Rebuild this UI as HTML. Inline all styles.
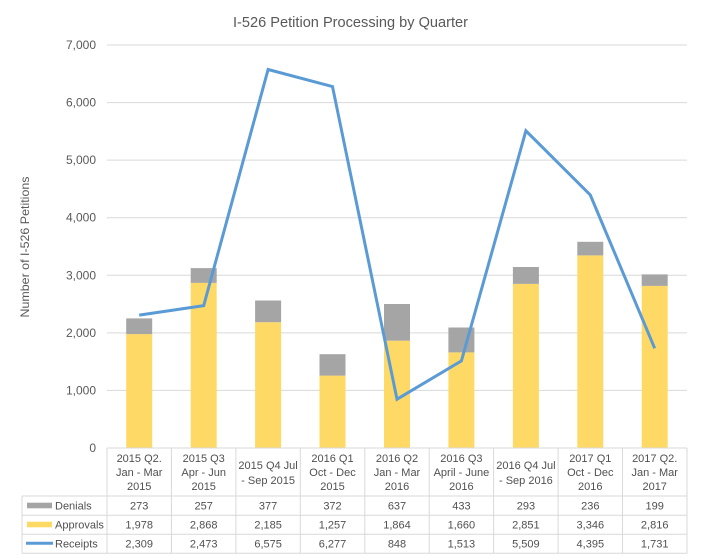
<!DOCTYPE html>
<html>
<head>
<meta charset="utf-8">
<style>
html,body{margin:0;padding:0;background:#fff;}
svg{display:block;font-family:"Liberation Sans",sans-serif;}
</style>
</head>
<body>
<svg width="702" height="560" viewBox="0 0 702 560" xmlns="http://www.w3.org/2000/svg">
<rect width="702" height="560" fill="#fff"/>
<!-- title -->
<text x="350.5" y="27" font-size="14.5" fill="#595959" text-anchor="middle" textLength="235" lengthAdjust="spacingAndGlyphs">I-526 Petition Processing by Quarter</text>
<!-- gridlines -->
<g stroke="#D9D9D9" stroke-width="1">
<line x1="107" y1="45" x2="687" y2="45"/>
<line x1="107" y1="102.6" x2="687" y2="102.6"/>
<line x1="107" y1="160.1" x2="687" y2="160.1"/>
<line x1="107" y1="217.7" x2="687" y2="217.7"/>
<line x1="107" y1="275.3" x2="687" y2="275.3"/>
<line x1="107" y1="332.9" x2="687" y2="332.9"/>
<line x1="107" y1="390.4" x2="687" y2="390.4"/>
</g>
<!-- y labels -->
<g font-size="12" fill="#595959" text-anchor="end">
<text x="96" y="49">7,000</text>
<text x="96" y="106.6">6,000</text>
<text x="96" y="164.1">5,000</text>
<text x="96" y="221.7">4,000</text>
<text x="96" y="279.3">3,000</text>
<text x="96" y="336.9">2,000</text>
<text x="96" y="394.4">1,000</text>
<text x="96" y="452">0</text>
</g>
<text transform="translate(29,247) rotate(-90)" font-size="12" fill="#595959" text-anchor="middle" textLength="141" lengthAdjust="spacingAndGlyphs">Number  of I-526 Petitions</text>
<!-- bars -->
<g>
<rect x="126.2" y="334.1" width="26" height="113.9" fill="#FFD966"/>
<rect x="126.2" y="318.4" width="26" height="15.7" fill="#A5A5A5"/>
<rect x="190.7" y="282.9" width="26" height="165.1" fill="#FFD966"/>
<rect x="190.7" y="268.1" width="26" height="14.8" fill="#A5A5A5"/>
<rect x="255.1" y="322.2" width="26" height="125.8" fill="#FFD966"/>
<rect x="255.1" y="300.5" width="26" height="21.7" fill="#A5A5A5"/>
<rect x="319.5" y="375.6" width="26" height="72.4" fill="#FFD966"/>
<rect x="319.5" y="354.2" width="26" height="21.4" fill="#A5A5A5"/>
<rect x="384" y="340.7" width="26" height="107.3" fill="#FFD966"/>
<rect x="384" y="304.0" width="26" height="36.7" fill="#A5A5A5"/>
<rect x="448.4" y="352.4" width="26" height="95.6" fill="#FFD966"/>
<rect x="448.4" y="327.5" width="26" height="24.9" fill="#A5A5A5"/>
<rect x="512.9" y="283.9" width="26" height="164.1" fill="#FFD966"/>
<rect x="512.9" y="267.0" width="26" height="16.9" fill="#A5A5A5"/>
<rect x="577.3" y="255.4" width="26" height="192.6" fill="#FFD966"/>
<rect x="577.3" y="241.8" width="26" height="13.6" fill="#A5A5A5"/>
<rect x="641.7" y="285.9" width="26" height="162.1" fill="#FFD966"/>
<rect x="641.7" y="274.4" width="26" height="11.5" fill="#A5A5A5"/>
</g>
<!-- line -->
<polyline points="139.2,315.1 203.7,305.6 268.1,69.5 332.5,86.6 397,399.2 461.4,360.9 525.9,130.8 590.3,195 654.7,348.3" fill="none" stroke="#5B9BD5" stroke-width="3" stroke-linejoin="miter"/>
<!-- table grid -->
<g stroke="#D9D9D9" stroke-width="1" fill="none">
<line x1="107" y1="448" x2="687" y2="448"/>
<line x1="22" y1="496" x2="687" y2="496"/>
<line x1="22" y1="515.2" x2="687" y2="515.2"/>
<line x1="22" y1="534.3" x2="687" y2="534.3"/>
<line x1="22" y1="553.3" x2="687" y2="553.3"/>
<line x1="22" y1="496" x2="22" y2="553.3"/>
<line x1="107" y1="448" x2="107" y2="553.3"/>
<line x1="171.4" y1="448" x2="171.4" y2="553.3"/>
<line x1="235.9" y1="448" x2="235.9" y2="553.3"/>
<line x1="300.3" y1="448" x2="300.3" y2="553.3"/>
<line x1="364.8" y1="448" x2="364.8" y2="553.3"/>
<line x1="429.2" y1="448" x2="429.2" y2="553.3"/>
<line x1="493.6" y1="448" x2="493.6" y2="553.3"/>
<line x1="558.1" y1="448" x2="558.1" y2="553.3"/>
<line x1="622.5" y1="448" x2="622.5" y2="553.3"/>
<line x1="687" y1="448" x2="687" y2="553.3"/>
</g>
<!-- header text -->
<g font-size="11" fill="#505050" text-anchor="middle">
<text x="139.2" y="462">2015 Q2.</text><text x="139.2" y="476">Jan - Mar</text><text x="139.2" y="490">2015</text>
<text x="203.7" y="462">2015 Q3</text><text x="203.7" y="476">Apr - Jun</text><text x="203.7" y="490">2015</text>
<text x="268.1" y="469">2015 Q4 Jul</text><text x="268.1" y="484">- Sep 2015</text>
<text x="332.5" y="462">2016 Q1</text><text x="332.5" y="476">Oct - Dec</text><text x="332.5" y="490">2015</text>
<text x="397" y="462">2016 Q2</text><text x="397" y="476">Jan - Mar</text><text x="397" y="490">2016</text>
<text x="461.4" y="462">2016 Q3</text><text x="461.4" y="476">April - June</text><text x="461.4" y="490">2016</text>
<text x="525.9" y="469">2016 Q4 Jul</text><text x="525.9" y="484">- Sep 2016</text>
<text x="590.3" y="462">2017 Q1</text><text x="590.3" y="476">Oct - Dec</text><text x="590.3" y="490">2016</text>
<text x="654.7" y="462">2017 Q2.</text><text x="654.7" y="476">Jan - Mar</text><text x="654.7" y="490">2017</text>
</g>
<!-- data rows -->
<g font-size="11" fill="#505050" text-anchor="middle">
<text x="139.2" y="509.5">273</text><text x="203.7" y="509.5">257</text><text x="268.1" y="509.5">377</text><text x="332.5" y="509.5">372</text><text x="397" y="509.5">637</text><text x="461.4" y="509.5">433</text><text x="525.9" y="509.5">293</text><text x="590.3" y="509.5">236</text><text x="654.7" y="509.5">199</text>
<text x="139.2" y="528.5">1,978</text><text x="203.7" y="528.5">2,868</text><text x="268.1" y="528.5">2,185</text><text x="332.5" y="528.5">1,257</text><text x="397" y="528.5">1,864</text><text x="461.4" y="528.5">1,660</text><text x="525.9" y="528.5">2,851</text><text x="590.3" y="528.5">3,346</text><text x="654.7" y="528.5">2,816</text>
<text x="139.2" y="547.5">2,309</text><text x="203.7" y="547.5">2,473</text><text x="268.1" y="547.5">6,575</text><text x="332.5" y="547.5">6,277</text><text x="397" y="547.5">848</text><text x="461.4" y="547.5">1,513</text><text x="525.9" y="547.5">5,509</text><text x="590.3" y="547.5">4,395</text><text x="654.7" y="547.5">1,731</text>
</g>
<!-- legend keys -->
<rect x="27" y="502.7" width="25" height="5.6" fill="#A5A5A5"/>
<rect x="27" y="521.7" width="25" height="5.6" fill="#FFD966"/>
<line x1="26" y1="543.3" x2="53" y2="543.3" stroke="#5B9BD5" stroke-width="3"/>
<g font-size="11" fill="#505050">
<text x="55" y="509.5">Denials</text>
<text x="55" y="528.5">Approvals</text>
<text x="55" y="547.5">Receipts</text>
</g>
</svg>
</body>
</html>
